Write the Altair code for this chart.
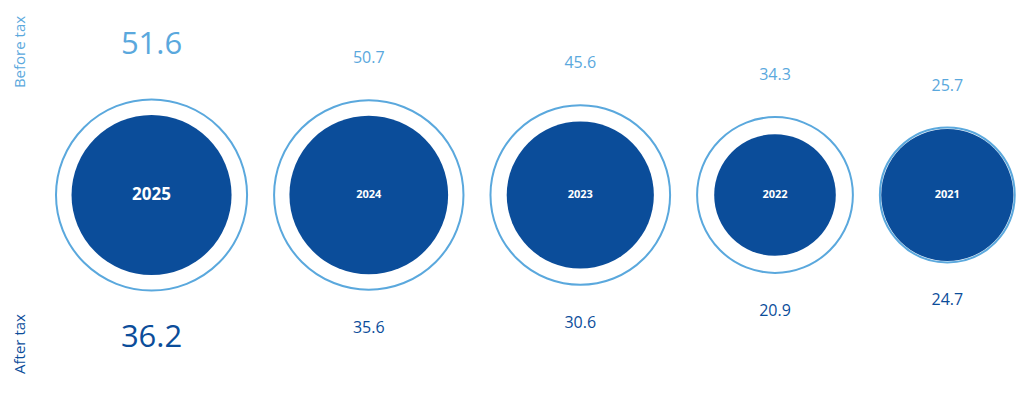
import math
import altair as alt
import pandas as pd

# ---- data ----
years = ["2025", "2024", "2023", "2022", "2021"]
before_tax = [51.6, 50.7, 45.6, 34.3, 25.7]
after_tax = [36.2, 35.6, 30.6, 20.9, 24.7]
side_labels = ["Before tax", "After tax"]

# ---- styling / layout constants ----
W, H = 1008, 377
K = 13.3          # radius = K * sqrt(value)  (area proportional to value)
GAP = 27          # gap between neighbouring outer circles
START = 48        # left edge of first outer circle
CY = 187          # vertical centre of circles
LIGHT = "#5AA8DD"
DARK = "#0B4D9A"
FONT = "Open Sans"

rows = []
x_left = START
for i, (yr, b, a) in enumerate(zip(years, before_tax, after_tax)):
    r_out = K * math.sqrt(b)
    r_in = K * math.sqrt(a)
    cx = x_left + r_out
    x_left = cx + r_out + GAP
    big = i == 0
    rows.append({
        "year": yr,
        "before": b,
        "after": a,
        "before_txt": f"{b:.1f}",
        "after_txt": f"{a:.1f}",
        "cx": cx,
        "cy": CY,
        "size_out": (2 * r_out) ** 2,
        "size_in": (2 * r_in) ** 2,
        "top_y": CY - r_out - (54 if big else 42),
        "bot_y": CY + r_out + (47 if big else 38),
        "val_fs": 31 if big else 16,
        "yr_fs": 17 if big else 11,
    })
df = pd.DataFrame(rows)

base = alt.Chart(df)

outer = base.mark_circle(fill="white", stroke=LIGHT, strokeWidth=2, opacity=1).encode(
    x=alt.X("cx:Q", scale=None),
    y=alt.Y("cy:Q", scale=None),
    size=alt.Size("size_out:Q", scale=None),
)
inner = base.mark_circle(fill=DARK, opacity=1).encode(
    x=alt.X("cx:Q", scale=None),
    y=alt.Y("cy:Q", scale=None),
    size=alt.Size("size_in:Q", scale=None),
)
year_lbl = base.mark_text(font=FONT, fontWeight="bold", color="white", baseline="middle").encode(
    x=alt.X("cx:Q", scale=None),
    y=alt.Y("cy:Q", scale=None),
    text="year:N",
    size=alt.Size("yr_fs:Q", scale=None),
)
top_lbl = base.mark_text(font=FONT, color=LIGHT, baseline="middle").encode(
    x=alt.X("cx:Q", scale=None),
    y=alt.Y("top_y:Q", scale=None),
    text="before_txt:N",
    size=alt.Size("val_fs:Q", scale=None),
)
bot_lbl = base.mark_text(font=FONT, color=DARK, baseline="middle").encode(
    x=alt.X("cx:Q", scale=None),
    y=alt.Y("bot_y:Q", scale=None),
    text="after_txt:N",
    size=alt.Size("val_fs:Q", scale=None),
)
before_side = alt.Chart(pd.DataFrame({"t": [side_labels[0]]})).mark_text(
    font=FONT, fontSize=15, color=LIGHT, angle=270, baseline="middle", align="center"
).encode(x=alt.value(12), y=alt.value(44), text="t:N")
after_side = alt.Chart(pd.DataFrame({"t": [side_labels[1]]})).mark_text(
    font=FONT, fontSize=15, color=DARK, angle=270, baseline="middle", align="center"
).encode(x=alt.value(12), y=alt.value(336), text="t:N")

chart = alt.layer(
    outer, inner, year_lbl, top_lbl, bot_lbl, before_side, after_side
).properties(
    width=W, height=H, autosize="none", padding=0
).configure_view(stroke=None)

chart.save("out.html", embed_options={"renderer": "svg", "actions": False})
